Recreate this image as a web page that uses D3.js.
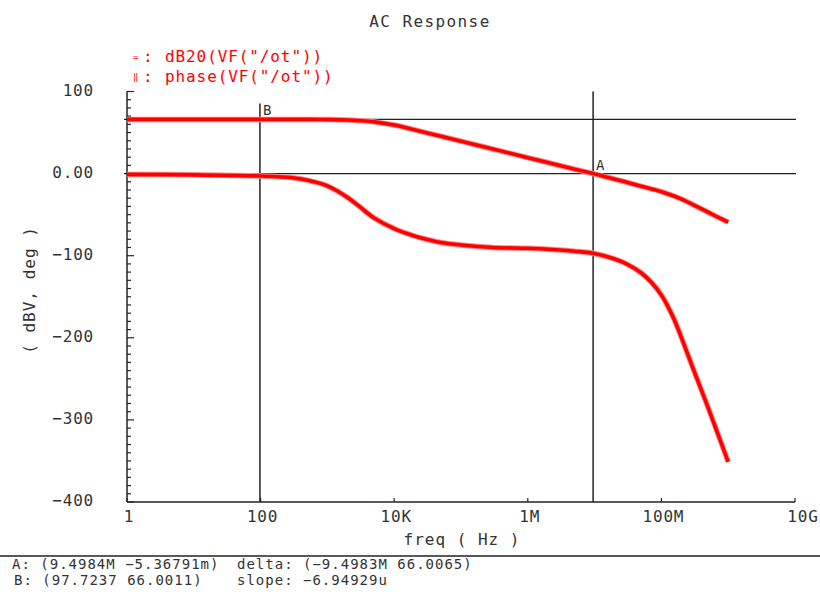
<!DOCTYPE html>
<html>
<head>
<meta charset="utf-8">
<script src="https://cdn.jsdelivr.net/npm/d3@7"></script>
<style>
  body { margin: 0; background: #fff; }
  text { font-family: "DejaVu Sans Mono", monospace; font-variant-numeric: slashed-zero; }
</style>
</head>
<body>
<div id="chart"></div>
<script>
// frequencies (Hz) and the two traces
const freqs = [1, 10, 100, 300, 500, 1e3, 2e3, 3e3, 5e3, 1e4, 2e4, 3e4, 5e4, 1e5, 3e5, 1e6, 3e6, 5e6, 9.5e6,
    2e7, 3e7, 5e7, 7e7, 1e8, 1.5e8, 2e8, 3e8, 5e8, 7e8, 1e9];
const dbVals = [66, 66, 66, 66, 66, 65.8, 65.3, 64.5, 63, 59.2, 53.4, 49.9, 45.5, 39.5, 29.9, 19.4, 9.9, 5.4, 0,
    -6.8, -10.5, -15.5, -18.5, -22, -27, -31, -38, -47, -53, -59];
const phaseVals = [-1, -1.5, -3, -5, -8, -15, -29, -40, -54, -67, -76, -80, -84, -87, -90, -91, -93, -94.5, -97,
    -104, -110, -121, -132, -148, -175, -200, -238, -285, -317, -351];

const xTickVals = [1, 1e2, 1e4, 1e6, 1e8, 1e10];
const xTickLabels = ["1", "100", "10K", "1M", "100M", "10G"];
const yTickVals = [100, 0, -100, -200, -300, -400];
const yTickLabels = ["100", "0.00", "\u2212100", "\u2212200", "\u2212300", "\u2212400"];

// markers A and B
const cursorNames = ["A", "B"];
const cursorFreqs = [9.4984e6, 97.7237];
const cursorVals = [-0.00536791, 66.0011];

const legendLabels = ["dB20(VF(\"/ot\"))", "phase(VF(\"/ot\"))"];
const readoutLeft = ["A: (9.4984M \u22125.36791m)", "B: (97.7237 66.0011)"];
const readoutRight = ["delta: (\u22129.4983M 66.0065)", "slope: \u22126.94929u"];

const width = 820, height = 592;
const svg = d3.select("#chart").append("svg").attr("width", width).attr("height", height);

const x = d3.scaleLog().domain([1, 1e10]).range([127, 795]);
const y = d3.scaleLinear().domain([-400, 100]).range([502, 91.5]);

const axisColor = "#222";
const textColor = "#333";

// title
svg.append("text").attr("x", 430).attr("y", 27).attr("text-anchor", "middle")
    .attr("font-size", 16).attr("letter-spacing", 1.4).attr("fill", textColor).text("AC Response");

// legend
legendLabels.forEach((lab, i) => {
    const ly = 62 + i * 20;
    svg.append("text").attr("x", 133).attr("y", ly - 2).attr("font-size", 9).attr("fill", "red")
        .text(i === 0 ? "=" : "\u2016");
    svg.append("text").attr("x", 143).attr("y", ly).attr("font-size", 16).attr("fill", "red").text(":");
    svg.append("text").attr("x", 165).attr("y", ly).attr("font-size", 16).attr("letter-spacing", 0.9)
        .attr("fill", "red").text(lab);
});

// y axis: line, minor ticks every 10, major every 100
const yAxis = svg.append("g");
yAxis.append("line").attr("x1", x(1)).attr("x2", x(1)).attr("y1", y(100)).attr("y2", y(-400))
    .attr("stroke", axisColor).attr("stroke-width", 1.5);
d3.range(-400, 101, 10).forEach(v => {
    const major = v % 100 === 0;
    yAxis.append("line").attr("x1", x(1)).attr("x2", x(1) + (major ? 7 : 4))
        .attr("y1", y(v)).attr("y2", y(v)).attr("stroke", axisColor).attr("stroke-width", 1.2);
});
yTickVals.forEach((v, i) => {
    yAxis.append("text").attr("x", 94).attr("y", y(v) + 4).attr("text-anchor", "end")
        .attr("font-size", 16).attr("letter-spacing", 0.8).attr("fill", textColor).text(yTickLabels[i]);
});
svg.append("text").attr("transform", `translate(35,290) rotate(-90)`).attr("text-anchor", "middle")
    .attr("font-size", 16).attr("letter-spacing", 1).attr("fill", textColor).text("( dBV, deg )");

// x axis
const xAxis = svg.append("g");
xAxis.append("line").attr("x1", x(1)).attr("x2", x(1e10)).attr("y1", y(-400)).attr("y2", y(-400))
    .attr("stroke", axisColor).attr("stroke-width", 1.5);
xTickVals.forEach((v, i) => {
    xAxis.append("line").attr("x1", x(v)).attr("x2", x(v)).attr("y1", y(-400)).attr("y2", y(-400) - 4)
        .attr("stroke", axisColor).attr("stroke-width", 1.2);
    xAxis.append("text").attr("x", x(v) + (i === xTickVals.length - 1 ? 8 : 2)).attr("y", y(-400) + 20)
        .attr("text-anchor", "middle").attr("font-size", 16).attr("letter-spacing", 0.8)
        .attr("fill", textColor).text(xTickLabels[i]);
});
svg.append("text").attr("x", 462).attr("y", 545).attr("text-anchor", "middle")
    .attr("font-size", 16).attr("letter-spacing", 1).attr("fill", textColor).text("freq ( Hz )");

// cursor lines
const cursors = svg.append("g");
cursorNames.forEach((name, i) => {
    const cx = x(cursorFreqs[i]), cy = y(cursorVals[i]);
    cursors.append("line").attr("x1", 124).attr("x2", 796).attr("y1", cy).attr("y2", cy)
        .attr("stroke", axisColor).attr("stroke-width", 1.3);
    cursors.append("line").attr("x1", cx).attr("x2", cx).attr("y1", name === "A" ? y(100) : y(100) + 12).attr("y2", y(-400))
        .attr("stroke", axisColor).attr("stroke-width", 1.5);
    cursors.append("text").attr("x", cx + 3).attr("y", cy - 4).attr("font-size", 14)
        .attr("fill", textColor).text(name);
});

// traces
const line = d3.line().x(d => x(d[0])).y(d => y(d[1])).curve(d3.curveCatmullRom.alpha(0.5));
[dbVals, phaseVals].forEach(vals => {
    const pts = freqs.map((f, i) => [f, vals[i]]);
    svg.append("path").attr("d", line(pts)).attr("fill", "none")
        .attr("stroke", "#ff8a8a").attr("stroke-width", 5.5).attr("stroke-linejoin", "round");
    svg.append("path").attr("d", line(pts)).attr("fill", "none")
        .attr("stroke", "#ff0000").attr("stroke-width", 3.6).attr("stroke-linejoin", "round");
});

// readout area
svg.append("line").attr("x1", 0).attr("x2", width).attr("y1", 556).attr("y2", 556)
    .attr("stroke", axisColor).attr("stroke-width", 1.5);
readoutLeft.forEach((t, i) => {
    svg.append("text").attr("x", 12 + i * 2).attr("y", 569 + i * 16).attr("font-size", 14)
        .attr("letter-spacing", 1.0).attr("fill", textColor).text(t);
});
readoutRight.forEach((t, i) => {
    svg.append("text").attr("x", 237).attr("y", 569 + i * 16).attr("font-size", 14)
        .attr("letter-spacing", 1.0).attr("fill", textColor).text(t);
});
</script>
</body>
</html>
